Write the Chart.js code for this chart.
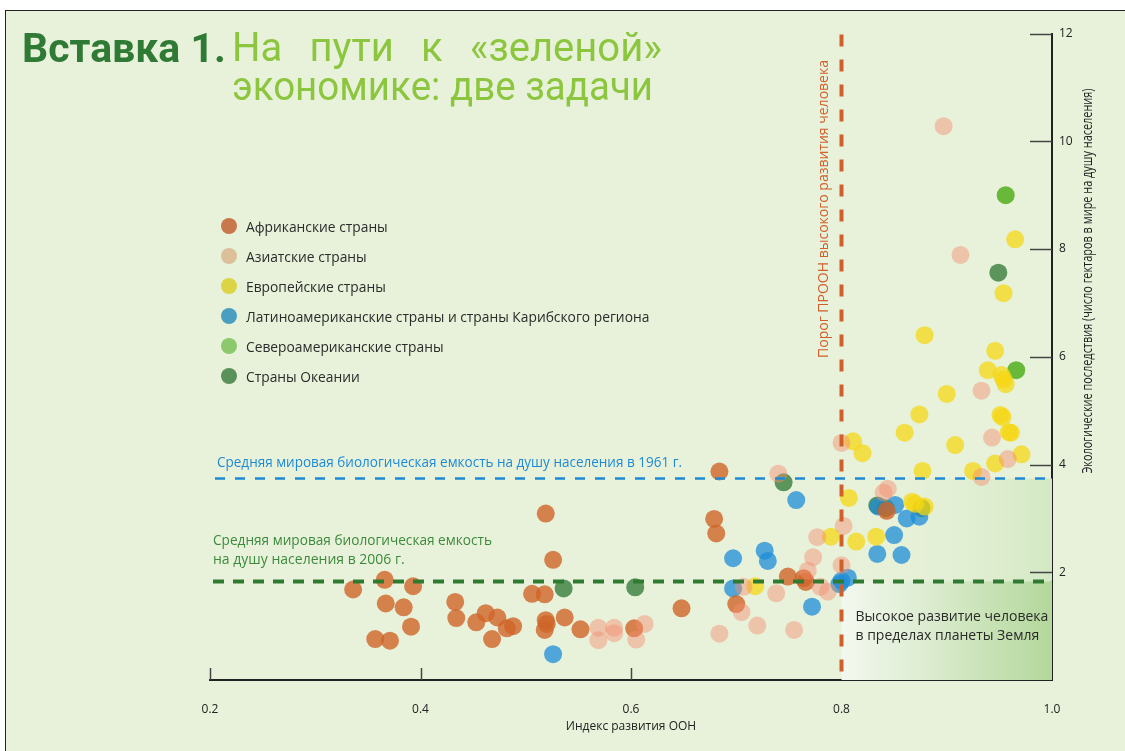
<!DOCTYPE html>
<html lang="ru">
<head>
<meta charset="utf-8">
<script src="https://cdn.jsdelivr.net/npm/chart.js@4.4.0/dist/chart.umd.min.js"></script>
<style>
  html, body { margin: 0; padding: 0; background: #fff; width: 1125px; height: 751px; overflow: hidden; }
  #panel { position: absolute; left: 5px; top: 10px; width: 1120px; height: 741px; background: #e8f2da;
           border-top: 1.5px solid #222; border-left: 1.5px solid #222; box-sizing: border-box; }
  #chart { position: absolute; left: 0; top: 0; }
  .title { position: absolute; font-family: Roboto, "Open Sans", sans-serif; font-size: 40px; line-height: 40px; white-space: nowrap; }
  #tBold { left: 22px; top: 28px; color: #2f7a34; font-weight: bold; font-size: 41px; }
  #tLine1 { left: 232px; top: 28px; width: 430px; color: #8cc63e; display: flex; justify-content: space-between; }
  #tLine2 { left: 232px; top: 67px; color: #8cc63e; transform: scaleX(.963); transform-origin: left; }
  #legend { position: absolute; left: 221px; top: 211px; margin: 0; padding: 0; list-style: none;
            font-family: "Open Sans", "Noto Sans", sans-serif; font-size: 13.8px; color: #2b2b2b; }
  #legend li { height: 30px; display: flex; align-items: center; }
  #legend i { width: 16px; height: 16px; border-radius: 50%; margin-right: 9px; display: inline-block; }
</style>
</head>
<body>
<div id="panel"></div>
<canvas id="chart" width="1125" height="751"></canvas>
<div id="tBold" class="title">Вставка 1.</div>
<div id="tLine1" class="title"><span>На</span><span>пути</span><span>к</span><span>«зеленой»</span></div>
<div id="tLine2" class="title">экономике: две задачи</div>
<ul id="legend"></ul>
<script>
// значения: индекс развития ООН (x) и экологический след, га на душу (y)
const africaX = [0.336,0.366,0.393,0.367,0.384,0.391,0.357,0.371,0.433,0.434,0.453,0.462,0.473,0.482,0.488,0.468,0.519,0.526,0.506,0.518,0.519,0.520,0.518,0.537,0.552,0.603,0.684,0.679,0.681,0.648,0.700,0.749,0.764,0.766,0.843];
const africaY = [1.68,1.86,1.74,1.42,1.35,0.99,0.76,0.73,1.45,1.15,1.07,1.24,1.16,0.96,1.00,0.76,3.09,2.23,1.60,1.59,1.11,1.04,0.93,1.16,0.94,0.96,3.87,2.99,2.72,1.33,1.41,1.92,1.89,1.82,3.14];

const asiaX = [0.897,0.913,0.933,0.943,0.958,0.933,0.800,0.840,0.844,0.802,0.740,0.777,0.773,0.800,0.768,0.707,0.738,0.780,0.787,0.705,0.720,0.684,0.755,0.613,0.569,0.569,0.584,0.584,0.605];
const asiaY = [10.28,7.89,5.37,4.50,4.10,3.77,4.40,3.48,3.55,2.86,3.83,2.65,2.28,2.13,2.03,1.73,1.61,1.73,1.64,1.26,1.01,0.86,0.93,1.04,0.97,0.74,0.97,0.87,0.75];

const europeX = [0.718,0.790,0.807,0.814,0.833,0.811,0.820,0.860,0.874,0.900,0.908,0.877,0.867,0.870,0.879,0.879,0.946,0.939,0.952,0.954,0.956,0.951,0.953,0.959,0.961,0.971,0.946,0.925,0.965,0.954];
const europeY = [1.74,2.66,3.38,2.57,2.66,4.43,4.21,4.59,4.93,5.31,4.36,3.88,3.31,3.27,3.22,6.40,6.11,5.75,5.66,5.58,5.49,4.92,4.88,4.60,4.59,4.19,4.02,3.88,8.18,7.18];

const latinX = [0.526,0.757,0.697,0.727,0.730,0.697,0.772,0.800,0.806,0.798,0.835,0.851,0.862,0.850,0.834,0.857,0.874];
const latinY = [0.48,3.34,2.26,2.40,2.21,1.70,1.36,1.84,1.90,1.78,3.22,3.25,3.00,2.69,2.34,2.32,3.03];

const northAmX = [0.956,0.966];
const northAmY = [9.00,5.75];

const oceaniaX = [0.536,0.604,0.745,0.949,0.834,0.842,0.876];
const oceaniaY = [1.70,1.72,3.67,7.56,3.24,3.19,3.19];

const X_TICKS = [0.2,0.4,0.6,0.8,1.0];
const Y_TICKS = [2,4,6,8,10,12];

const BIOCAP_1961 = 3.74;   // средняя биоемкость 1961
const BIOCAP_2006 = 1.83;   // средняя биоемкость 2006
const HDI_THRESHOLD = 0.8;  // порог ПРООН

const REGIONS = ['Африканские страны','Азиатские страны','Европейские страны',
  'Латиноамериканские страны и страны Карибского региона','Североамериканские страны','Страны Океании'];

const FONT = '"Open Sans", "Noto Sans", sans-serif';
const C = {
  africa: 'rgba(208,100,40,0.8)',
  asia: 'rgba(245,140,110,0.45)',
  europe: 'rgba(245,215,20,0.75)',
  latin: 'rgba(30,140,215,0.75)',
  northAm: 'rgba(90,178,40,0.9)',
  oceania: 'rgba(55,125,60,0.8)',
  legend: ['#c8784a','#dcc09a','#dcd444','#4a9ec0','#8cc86c','#5a905a'],
  blue: '#1e8ad6', green: '#2f7a30', orange: '#d0602a'
};

// HTML легенда
document.getElementById('legend').innerHTML = REGIONS.map((r, i) =>
  `<li><i style="background:${C.legend[i]}"></i>${r}</li>`).join('');

const zip = (xs, ys) => xs.map((v, i) => ({ x: v, y: ys[i] }));
const ds = (label, xs, ys, color) => ({ label, data: zip(xs, ys), backgroundColor: color,
  borderWidth: 0, pointRadius: 9, pointHoverRadius: 9 });

const Annotations = {
  id: 'annotations',
  beforeDatasetsDraw(chart) {
    const { ctx, scales: { x, y } } = chart;
    const l = x.getPixelForValue(HDI_THRESHOLD), r = x.getPixelForValue(1.0);
    const yTop = y.getPixelForValue(BIOCAP_1961), yMid = y.getPixelForValue(BIOCAP_2006), yBot = y.getPixelForValue(0);
    ctx.save();
    let g = ctx.createLinearGradient(l, 0, r, 0);
    g.addColorStop(0, 'rgba(232,242,218,0)');
    g.addColorStop(1, '#d3e8c4');
    ctx.fillStyle = g;
    ctx.fillRect(l, yTop, r - l, yMid - yTop);
    g = ctx.createLinearGradient(l, 0, r, 0);
    g.addColorStop(0, '#f3f8ef');
    g.addColorStop(0.35, '#e0eed5');
    g.addColorStop(1, '#b3d89b');
    ctx.fillStyle = g;
    ctx.fillRect(l, yMid, r - l, yBot - yMid);
    ctx.restore();
  },
  afterDatasetsDraw(chart) {
    const { ctx, chartArea: a, scales: { x, y } } = chart;
    const xT = x.getPixelForValue(HDI_THRESHOLD);
    const y61 = y.getPixelForValue(BIOCAP_1961), y06 = y.getPixelForValue(BIOCAP_2006);
    ctx.save();
    // пунктир 1961
    ctx.strokeStyle = C.blue; ctx.lineWidth = 2.5; ctx.setLineDash([10, 10]);
    ctx.beginPath(); ctx.moveTo(a.left + 5, y61); ctx.lineTo(a.right, y61); ctx.stroke();
    // пунктир 2006
    ctx.strokeStyle = C.green; ctx.lineWidth = 4; ctx.setLineDash([11, 9]);
    ctx.beginPath(); ctx.moveTo(a.left + 3, y06); ctx.lineTo(a.right, y06); ctx.stroke();
    // порог ПРООН
    ctx.strokeStyle = C.orange; ctx.lineWidth = 4; ctx.setLineDash([12, 13]);
    ctx.beginPath(); ctx.moveTo(xT, a.top + 1); ctx.lineTo(xT, a.bottom); ctx.stroke();
    ctx.setLineDash([]);

    ctx.font = '14px ' + FONT;
    ctx.textBaseline = 'middle';
    ctx.fillStyle = C.blue;
    ctx.fillText('Средняя мировая биологическая емкость на душу населения в 1961 г.', a.left + 7, y61 - 15, 465);
    ctx.fillStyle = '#3d8a3d';
    ctx.fillText('Средняя мировая биологическая емкость', a.left + 3, y06 - 40, 279);
    ctx.fillText('на душу населения в 2006 г.', a.left + 3, y06 - 21);
    ctx.fillStyle = '#2a2a2a';
    ctx.fillText('Высокое развитие человека', xT + 14, 617, 194);
    ctx.fillText('в пределах планеты Земля', xT + 14, 636, 194);

    ctx.fillStyle = C.orange;
    ctx.translate(xT - 17, 209);
    ctx.rotate(-Math.PI / 2);
    ctx.textAlign = 'center';
    ctx.fillText('Порог ПРООН высокого развития человека', 0, 0, 298);
    ctx.restore();
  },
  afterDraw(chart) {
    const { ctx, chartArea: a, scales: { x, y } } = chart;
    ctx.save();
    // засечки внутрь
    ctx.strokeStyle = '#444'; ctx.lineWidth = 1.5;
    Y_TICKS.forEach(v => {
      const py = Math.round(y.getPixelForValue(v)) + 0.5;
      ctx.beginPath(); ctx.moveTo(a.right - 22, py); ctx.lineTo(a.right, py); ctx.stroke();
    });
    X_TICKS.slice(0, 3).forEach(v => {
      const px = Math.round(x.getPixelForValue(v)) + 0.5;
      ctx.beginPath(); ctx.moveTo(px, a.bottom - 12); ctx.lineTo(px, a.bottom); ctx.stroke();
    });
    // подпись оси Y (снизу вверх)
    ctx.fillStyle = '#222';
    ctx.font = '14.5px ' + FONT;
    ctx.textAlign = 'center'; ctx.textBaseline = 'middle';
    ctx.translate(a.right + 36, 281);
    ctx.rotate(-Math.PI / 2);
    ctx.fillText('Экологические последствия (число гектаров в мире на душу населения)', 0, 0, 385);
    ctx.restore();
  }
};

new Chart(document.getElementById('chart'), {
  type: 'scatter',
  data: {
    datasets: [
      ds(REGIONS[1], asiaX, asiaY, C.asia),
      ds(REGIONS[0], africaX, africaY, C.africa),
      ds(REGIONS[2], europeX, europeY, C.europe),
      ds(REGIONS[3], latinX, latinY, C.latin),
      ds(REGIONS[5], oceaniaX, oceaniaY, C.oceania),
      ds(REGIONS[4], northAmX, northAmY, C.northAm)
    ]
  },
  options: {
    responsive: false,
    animation: false,
    layout: { padding: { top: 33.5, left: 210, right: 0, bottom: 0 } },
    plugins: { legend: { display: false }, tooltip: { enabled: false } },
    scales: {
      x: {
        type: 'linear', position: 'bottom', min: 0.2, max: 1.0,
        afterBuildTicks: s => { s.ticks = X_TICKS.map(v => ({ value: v })); },
        afterFit: s => { s.height = 71; },
        ticks: { callback: v => v.toFixed(1), padding: 22, color: '#222', autoSkip: false, maxRotation: 0,
                 font: { family: FONT, size: 12 } },
        grid: { display: false, drawTicks: false },
        border: { display: true, color: '#222', width: 2 },
        title: { display: true, text: 'Индекс развития ООН', color: '#222',
                 font: { family: FONT, size: 12 }, padding: { top: 0, bottom: 17 } }
      },
      y: {
        type: 'linear', position: 'right', min: 0, max: 12,
        afterBuildTicks: s => { s.ticks = Y_TICKS.map(v => ({ value: v })); },
        afterFit: s => { s.width = 73; },
        ticks: { padding: 7, color: '#222', font: { family: FONT, size: 12 } },
        grid: { display: false, drawTicks: false },
        border: { display: true, color: '#222', width: 2 }
      }
    }
  },
  plugins: [Annotations]
});
</script>
</body>
</html>
